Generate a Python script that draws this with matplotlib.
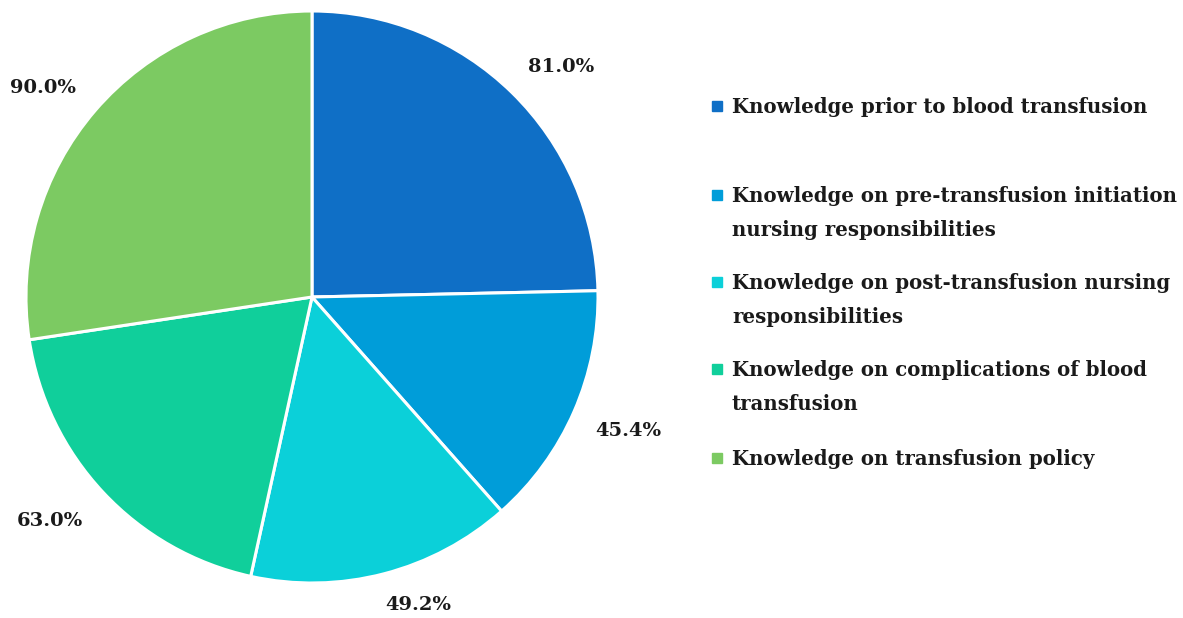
import matplotlib
matplotlib.use("Agg")
from matplotlib import pyplot as plt
import numpy as np
import textwrap

labels = ['Knowledge prior to blood transfusion',
          'Knowledge on pre-transfusion initiation nursing responsibilities',
          'Knowledge on post-transfusion nursing responsibilities',
          'Knowledge on complications of blood transfusion',
          'Knowledge on transfusion policy']
values = [81.0, 45.4, 49.2, 63.0, 90.0]
colors = ['#0F6FC6', '#009DD9', '#0BD0D9', '#10CF9B', '#7CCA62']
wrap_at = [40, 39, 37, 36, 40]

font = 'DejaVu Serif'
fig = plt.figure(figsize=(11.83, 6.18), dpi=100)
ax = fig.add_axes([26/1183, 35/618, 572/1183, 572/618])
wedges, _ = ax.pie(values, colors=colors, startangle=90, counterclock=False,
                   wedgeprops=dict(edgecolor='white', linewidth=2.2))
ax.set_xlim(-1, 1)
ax.set_ylim(-1, 1)
ax.set_aspect('equal')

# data labels, nudged off the radial line a little like Excel's best fit
shift = [-3.0, 0.7, 4.4, -2.6, 2.9]
dist = [1.185, 1.2, 1.14, 1.205, 1.19]
for w, v, s, d in zip(wedges, values, shift, dist):
    a = np.deg2rad((w.theta1 + w.theta2) / 2 + s)
    ax.text(d * np.cos(a), d * np.sin(a), f'{v:.1f}%', ha='center', va='center',
            fontfamily=font, fontweight='bold', fontsize=14, color='#1a1a1a')

# legend drawn by hand so the marker sits on the first line
rows = [106, 195, 282, 369, 458]
for lab, col, y, w in zip(labels, colors, rows, wrap_at):
    fig.patches.append(plt.Rectangle((712/1183, (618 - y - 5)/618), 10/1183, 10/618,
                                     transform=fig.transFigure, color=col, figure=fig))
    fig.text(732/1183, (618 - y + 9)/618, '\n'.join(textwrap.wrap(lab, w)),
             fontfamily=font, fontweight='bold', fontsize=14.2, va='top',
             ha='left', linespacing=1.9, color='#1a1a1a')

fig.savefig('out.png', dpi=100, facecolor='white')
